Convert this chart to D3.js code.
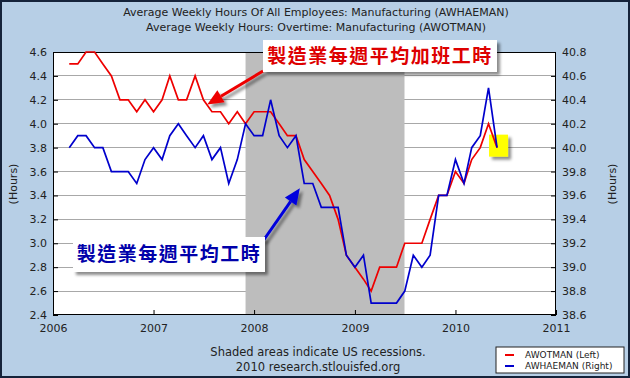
<!DOCTYPE html>
<html>
<head>
<meta charset="utf-8">
<script src="https://cdn.jsdelivr.net/npm/d3@7"></script>
<style>
  body { margin: 0; background: #fff; }
  svg { display: block; }
  text { font-family: "DejaVu Sans", Verdana, sans-serif; fill: #222; }
</style>
</head>
<body>
<div id="chart"></div>
<script>
// monthly data, Mar 2006 .. Jun 2010
const firstMonth = new Date(2006, 2, 1);
const awotman = [
  4.5, 4.5, 4.6, 4.6, 4.5, 4.4, 4.2, 4.2, 4.1, 4.2,
  4.1, 4.2, 4.4, 4.2, 4.2, 4.4, 4.2, 4.1, 4.1, 4.0, 4.1, 4.0,
  4.1, 4.1, 4.1, 4.0, 3.9, 3.9, 3.7, 3.6, 3.5, 3.4, 3.2, 2.9,
  2.8, 2.7, 2.6, 2.8, 2.8, 2.8, 3.0, 3.0, 3.0, 3.2, 3.4, 3.4,
  3.6, 3.5, 3.7, 3.8, 4.0, 3.8
];
const awhaeman = [
  40.0, 40.1, 40.1, 40.0, 40.0, 39.8, 39.8, 39.8, 39.7, 39.9,
  40.0, 39.9, 40.1, 40.2, 40.1, 40.0, 40.1, 39.9, 40.0, 39.7, 39.9, 40.2,
  40.1, 40.1, 40.4, 40.1, 40.0, 40.1, 39.7, 39.7, 39.5, 39.5, 39.5, 39.1,
  39.0, 39.1, 38.7, 38.7, 38.7, 38.7, 38.8, 39.1, 39.0, 39.1, 39.6, 39.6,
  39.9, 39.7, 40.0, 40.1, 40.5, 40.0
];
const leftTicks = [2.4, 2.6, 2.8, 3.0, 3.2, 3.4, 3.6, 3.8, 4.0, 4.2, 4.4, 4.6];
const rightTicks = [38.6, 38.8, 39.0, 39.2, 39.4, 39.6, 39.8, 40.0, 40.2, 40.4, 40.6, 40.8];
const yearTicks = [2006, 2007, 2008, 2009, 2010, 2011];
const recession = [new Date(2007, 11, 1), new Date(2009, 5, 30)];

const titles = [
  "Average Weekly Hours Of All Employees: Manufacturing (AWHAEMAN)",
  "Average Weekly Hours: Overtime: Manufacturing (AWOTMAN)"
];

const W = 630, H = 378;
const plot = { left: 53, right: 556, top: 52, bottom: 315 };

const svg = d3.select("#chart").append("svg")
  .attr("width", W).attr("height", H);

const defs = svg.append("defs");
const shadow = defs.append("filter").attr("id", "shadow")
  .attr("x", "-20%").attr("y", "-20%").attr("width", "150%").attr("height", "160%");
shadow.append("feDropShadow")
  .attr("dx", 3).attr("dy", 3).attr("stdDeviation", 1.5)
  .attr("flood-color", "#000").attr("flood-opacity", 0.45);

// frame
svg.append("rect")
  .attr("x", 1).attr("y", 1).attr("width", W - 2).attr("height", H - 2)
  .attr("fill", "#b7cfe6").attr("stroke", "#15233a").attr("stroke-width", 2);

const x = d3.scaleTime()
  .domain([new Date(2006, 0, 1), new Date(2011, 0, 1)])
  .range([plot.left, plot.right]);
const yL = d3.scaleLinear().domain([2.4, 4.6]).range([plot.bottom, plot.top]);
const yR = d3.scaleLinear().domain([38.6, 40.8]).range([plot.bottom, plot.top]);

const dates = awotman.map((_, i) => d3.timeMonth.offset(firstMonth, i));

// plot background
svg.append("rect")
  .attr("x", plot.left).attr("y", plot.top)
  .attr("width", plot.right - plot.left).attr("height", plot.bottom - plot.top)
  .attr("fill", "#fff");

// grid
svg.append("g").selectAll("line")
  .data(leftTicks.slice(1, -1))
  .join("line")
  .attr("x1", plot.left).attr("x2", plot.right)
  .attr("y1", d => yL(d)).attr("y2", d => yL(d))
  .attr("stroke", "#a8a8a8").attr("stroke-width", 1)
  .attr("shape-rendering", "crispEdges");

// recession shading
svg.append("rect")
  .attr("x", x(recession[0])).attr("y", plot.top)
  .attr("width", x(recession[1]) - x(recession[0]))
  .attr("height", plot.bottom - plot.top)
  .attr("fill", "#bdbdbd");

// axes
const fmt = d3.format(".1f");
const axL = svg.append("g")
  .attr("transform", `translate(${plot.left},0)`)
  .call(d3.axisLeft(yL).tickValues(leftTicks).tickFormat(fmt).tickSize(-5).tickPadding(6));
const axR = svg.append("g")
  .attr("transform", `translate(${plot.right},0)`)
  .call(d3.axisRight(yR).tickValues(rightTicks).tickFormat(fmt).tickSize(-5).tickPadding(6));
const axB = svg.append("g")
  .attr("transform", `translate(0,${plot.bottom})`)
  .call(d3.axisBottom(x).tickValues(yearTicks.map(y => new Date(y, 0, 1)))
    .tickFormat(d3.timeFormat("%Y")).tickSize(-5).tickPadding(9));

[axL, axR, axB].forEach(g => {
  g.select(".domain").remove();
  g.selectAll("line").attr("stroke", "#000");
  g.selectAll("text").attr("font-size", 11).attr("fill", "#222")
    .style("font-family", '"DejaVu Sans", Verdana, sans-serif');
});

// plot border
svg.append("rect")
  .attr("x", plot.left + 0.5).attr("y", plot.top + 0.5)
  .attr("width", plot.right - plot.left - 1).attr("height", plot.bottom - plot.top - 1)
  .attr("fill", "none").attr("stroke", "#000").attr("stroke-width", 1);

// lines
const lineL = d3.line().x((d, i) => x(dates[i])).y(d => yL(d));
const lineR = d3.line().x((d, i) => x(dates[i])).y(d => yR(d));

// titles
svg.append("g").selectAll("text")
  .data(titles).join("text")
  .attr("x", 316).attr("y", (d, i) => 16 + i * 15)
  .attr("text-anchor", "middle").attr("font-size", 11)
  .attr("fill", "#333").text(d => d);

// axis labels
[13, 612].forEach(px => {
  svg.append("text")
    .attr("transform", `translate(${px},184) rotate(-90)`)
    .attr("text-anchor", "middle").attr("dy", "0.35em")
    .attr("font-size", 11).text("(Hours)");
});

// footer
svg.append("text").attr("x", 318).attr("y", 356)
  .attr("text-anchor", "middle").attr("font-size", 11.5)
  .text("Shaded areas indicate US recessions.");
svg.append("text").attr("x", 318).attr("y", 371)
  .attr("text-anchor", "middle").attr("font-size", 11.5)
  .text("2010 research.stlouisfed.org");

// legend
const legend = svg.append("g").attr("transform", "translate(496,347)");
legend.append("rect").attr("width", 128).attr("height", 26)
  .attr("fill", "#fff").attr("stroke", "#222");
[["AWOTMAN (Left)", "#ee0000"], ["AWHAEMAN (Right)", "#0000cc"]].forEach(([label, c], i) => {
  const row = legend.append("g").attr("transform", `translate(0,${8 + i * 11})`);
  row.append("line").attr("x1", 9).attr("x2", 18).attr("stroke", c).attr("stroke-width", 2);
  row.append("text").attr("x", 29).attr("dy", "0.35em")
    .attr("font-size", 9).text(label);
});

// yellow marker at last point (under the lines)
const last = dates[dates.length - 1];
svg.append("rect")
  .attr("x", x(last) - 8).attr("y", yL(awotman[awotman.length - 1]) - 13)
  .attr("width", 19).attr("height", 22)
  .attr("fill", "#ffff00").attr("filter", "url(#shadow)");

svg.append("path").datum(awotman)
  .attr("d", lineL).attr("fill", "none")
  .attr("stroke", "#ee0000").attr("stroke-width", 1.7);
svg.append("path").datum(awhaeman)
  .attr("d", lineR).attr("fill", "none")
  .attr("stroke", "#0000cc").attr("stroke-width", 1.7);

// annotations
function arrow(x1, y1, x2, y2, color) {
  const ang = Math.atan2(y2 - y1, x2 - x1);
  const len = 16, wid = 7;
  const bx = x2 - len * Math.cos(ang), by = y2 - len * Math.sin(ang);
  const g = svg.append("g").attr("filter", "url(#shadow)");
  g.append("line").attr("x1", x1).attr("y1", y1).attr("x2", bx).attr("y2", by)
    .attr("stroke", color).attr("stroke-width", 3);
  const px = -Math.sin(ang) * wid, py = Math.cos(ang) * wid;
  g.append("path")
    .attr("d", `M${x2},${y2}L${bx + px},${by + py}L${bx - px},${by - py}Z`)
    .attr("fill", color);
}

function callout(bx, by, bw, bh, label, color) {
  const g = svg.append("g");
  g.append("rect").attr("x", bx).attr("y", by).attr("width", bw).attr("height", bh)
    .attr("fill", "#fff").attr("filter", "url(#shadow)");
  g.append("text").attr("x", bx + bw / 2).attr("y", by + bh / 2)
    .attr("dy", "0.36em").attr("text-anchor", "middle")
    .attr("font-size", 19).attr("font-weight", "bold")
    .attr("letter-spacing", 1.5)
    .style("font-family", '"Noto Sans CJK TC", "Noto Sans CJK SC", sans-serif')
    .style("fill", color)
    .text(label);
}

arrow(263, 71, x(new Date(2007, 6, 15)), yL(4.16), "#ee0000");
callout(263, 40, 234, 32, "製造業每週平均加班工時", "#dd0000");

arrow(263, 241, x(new Date(2008, 5, 15)), yL(3.46), "#0000dd");
callout(73, 237, 192, 35, "製造業每週平均工時", "#0000aa");
</script>
</body>
</html>
